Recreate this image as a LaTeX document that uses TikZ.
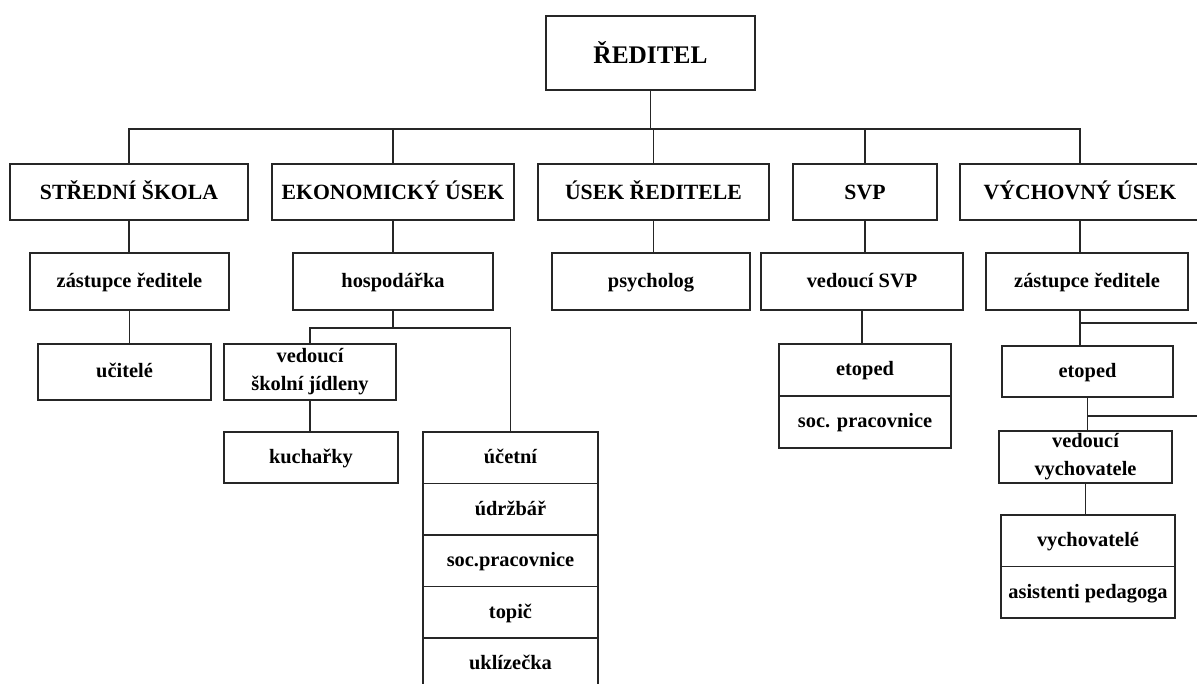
\documentclass[tikz,border=0pt]{standalone}
\usepackage{fontspec}
\setmainfont{Liberation Serif}
\usetikzlibrary{positioning}

\begin{document}
\begin{tikzpicture}[x=0.75pt, y=-0.75pt,
        box/.style={draw=black!85, line width=0.8pt, inner sep=0pt, align=center,
            font=\bfseries\fontsize{15.3}{21}\selectfont},
        jeden/.style={box, text height=11pt, text depth=2pt},
        topbox/.style={box, text height=12pt, text depth=0pt, minimum height=42pt,
            font=\bfseries\fontsize{16.3}{20}\selectfont},
        midbox/.style={jeden, minimum height=42.75pt},
        rowbox/.style={jeden, minimum height=38.6pt},
        spoj/.style={draw=black!85, line width=0.8pt},
        ]
        \useasboundingbox (0,0) rectangle (1197,684);

        % ředitel
        \node[box, text height=16pt, text depth=0pt, minimum width=156.75pt, minimum height=55.5pt,
            font=\bfseries\fontsize{19}{23}\selectfont] (reditel) at (650.5,53) {ŘEDITEL};

        % úseky
        \node[topbox, minimum width=178.5pt] (skola) at (129,192) {STŘEDNÍ ŠKOLA};
        \node[topbox, minimum width=181.5pt] (ekon) at (393,192) {EKONOMICKÝ ÚSEK};
        \node[topbox, minimum width=173.25pt] (usek) at (653.5,192) {ÚSEK ŘEDITELE};
        \node[topbox, minimum width=108pt] (svp) at (865,192) {SVP};
        \node[topbox, minimum width=180pt] (vych) at (1080,192) {VÝCHOVNÝ ÚSEK};

        % druhá úroveň
        \node[midbox, minimum width=149.25pt] (zast1) at (129.5,281.5) {zástupce ředitele};
        \node[midbox, minimum width=150pt] (hosp) at (393,281.5) {hospodářka};
        \node[midbox, minimum width=148.5pt] (psych) at (651,281.5) {psycholog};
        \node[midbox, minimum width=151.5pt] (vedsvp) at (862,281.5) {vedoucí SVP};
        \node[midbox, minimum width=151.5pt] (zast2) at (1087,281.5) {zástupce ředitele};

        % střední škola a ekonomický úsek
        \node[jeden, minimum width=129.75pt, minimum height=42pt] (ucitele) at (124.5,372) {učitelé};
        \node[box, minimum width=129pt, minimum height=42pt] (vedjid) at (310,372) {vedoucí\\školní jídleny};
        \node[jeden, minimum width=130.5pt, minimum height=38.25pt] (kuch) at (311,457.5) {kuchařky};
        \node[rowbox, minimum width=131.25pt] (ucetni) at (510.5,457.75) {účetní};
        \node[rowbox, minimum width=131.25pt] (udrzbar) at (510.5,509.25) {údržbář};
        \node[rowbox, minimum width=131.25pt] (socprac1) at (510.5,560.75) {soc.pracovnice};
        \node[rowbox, minimum width=131.25pt] (topic) at (510.5,612.25) {topič};
        \node[rowbox, minimum width=131.25pt] (uklizecka) at (510.5,663.75) {uklízečka};

        % SVP
        \node[rowbox, minimum width=129pt, minimum height=39pt] (etoped1) at (865,370) {etoped};
        \node[rowbox, minimum width=129pt, minimum height=39pt] (socprac2) at (865,422) {soc. pracovnice};

        % výchovný úsek
        \node[jeden, minimum width=128.25pt, minimum height=38.25pt] (etoped2) at (1087.5,371.5) {etoped};
        \node[box, minimum width=129.75pt, minimum height=39pt] (vedvych) at (1085.5,457) {vedoucí\\vychovatele};
        \node[rowbox, minimum width=130.5pt] (vychovatele) at (1088,540.75) {vychovatelé};
        \node[rowbox, minimum width=130.5pt] (asist) at (1088,592.25) {asistenti pedagoga};

        \coordinate (bus) at (0,129);
        \coordinate (hbus) at (0,328);
        \coordinate (okraj1) at (1200,323);
        \coordinate (okraj2) at (1200,416);

        \draw[spoj] (reditel.south) -- (reditel.south |- bus);
        \draw[spoj] (skola.north) -- (skola.north |- bus) -- (vych.north |- bus) -- (vych.north);
        \draw[spoj] (ekon.north) -- (ekon.north |- bus);
        \draw[spoj] (usek.north) -- (usek.north |- bus);
        \draw[spoj] (svp.north) -- (svp.north |- bus);

        \draw[spoj] (skola.south) -- (skola.south |- zast1.north);
        \draw[spoj] (ekon.south) -- (ekon.south |- hosp.north);
        \draw[spoj] (usek.south) -- (usek.south |- psych.north);
        \draw[spoj] (svp.south) -- (svp.south |- vedsvp.north);
        \draw[spoj] (vych.south) -- (vych.south |- zast2.north);

        \draw[spoj] (zast1.south) -- (zast1.south |- ucitele.north);
        \draw[spoj] (hosp.south) -- (hosp.south |- hbus);
        \draw[spoj] (vedjid.north) -- (vedjid.north |- hbus) -- (ucetni.north |- hbus) -- (ucetni.north);
        \draw[spoj] (vedjid.south) -- (vedjid.south |- kuch.north);
        \draw[spoj] (vedsvp.south) -- (vedsvp.south |- etoped1.north);

        \draw[spoj] (zast2.south -| vych.south) -- (etoped2.north -| vych.south);
        \draw[spoj] (okraj1 -| vych.south) -- (okraj1);
        \draw[spoj] (etoped2.south) -- (etoped2.south |- vedvych.north);
        \draw[spoj] (okraj2 -| etoped2.south) -- (okraj2);
        \draw[spoj] (vedvych.south) -- (vedvych.south |- vychovatele.north);

\end{tikzpicture}
\end{document}
